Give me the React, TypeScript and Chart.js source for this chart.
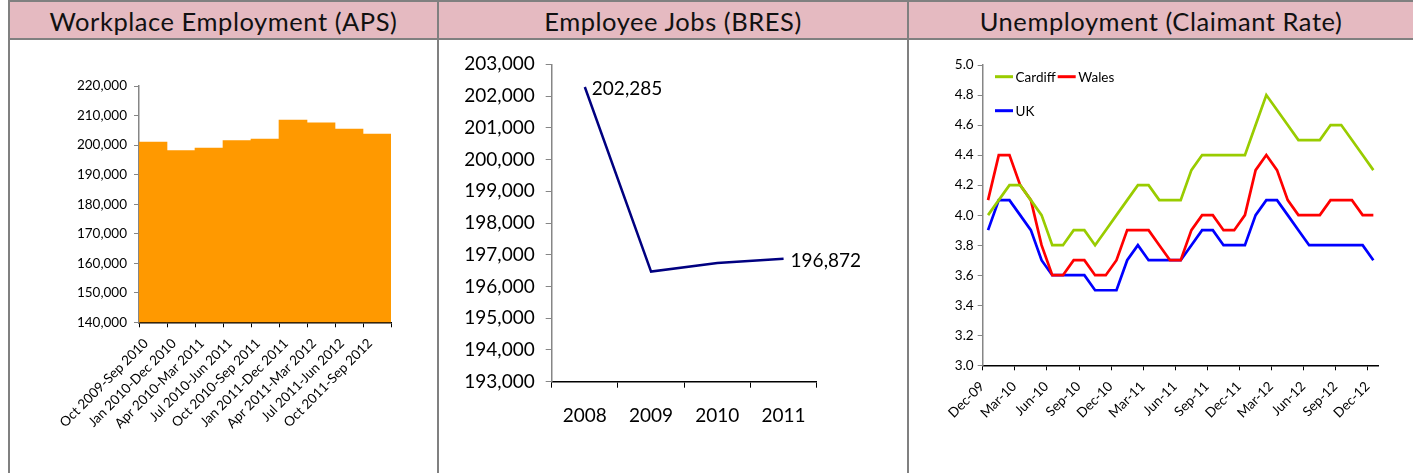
import React, { useEffect, useRef } from 'react';
import { Chart, registerables } from 'chart.js';

Chart.register(...registerables);

// ---------- DATA ----------
const apsLabels = [
  'Oct 2009-Sep 2010',
  'Jan 2010-Dec 2010',
  'Apr 2010-Mar 2011',
  'Jul 2010-Jun 2011',
  'Oct 2010-Sep 2011',
  'Jan 2011-Dec 2011',
  'Apr 2011-Mar 2012',
  'Jul 2011-Jun 2012',
  'Oct 2011-Sep 2012',
];
const apsValues = [201000, 198100, 199000, 201500, 202000, 208500, 207500, 205400, 203700];
const apsTitle = 'Workplace Employment (APS)';

const bresYears = ['2008', '2009', '2010', '2011'];
const bresValues = [202285, 196470, 196740, 196872];
const bresTitle = 'Employee Jobs (BRES)';

const claimantMonths = [
  'Dec-09',
  'Jan-10', 'Feb-10', 'Mar-10', 'Apr-10', 'May-10', 'Jun-10', 'Jul-10', 'Aug-10', 'Sep-10', 'Oct-10', 'Nov-10', 'Dec-10',
  'Jan-11', 'Feb-11', 'Mar-11', 'Apr-11', 'May-11', 'Jun-11', 'Jul-11', 'Aug-11', 'Sep-11', 'Oct-11', 'Nov-11', 'Dec-11',
  'Jan-12', 'Feb-12', 'Mar-12', 'Apr-12', 'May-12', 'Jun-12', 'Jul-12', 'Aug-12', 'Sep-12', 'Oct-12', 'Nov-12', 'Dec-12',
];
const cardiffRate = [4.0, 4.1, 4.2, 4.2, 4.1, 4.0, 3.8, 3.8, 3.9, 3.9, 3.8, 3.9, 4.0, 4.1, 4.2, 4.2, 4.1, 4.1, 4.1, 4.3, 4.4, 4.4, 4.4, 4.4, 4.4, 4.6, 4.8, 4.7, 4.6, 4.5, 4.5, 4.5, 4.6, 4.6, 4.5, 4.4, 4.3];
const walesRate = [4.1, 4.4, 4.4, 4.2, 4.1, 3.8, 3.6, 3.6, 3.7, 3.7, 3.6, 3.6, 3.7, 3.9, 3.9, 3.9, 3.8, 3.7, 3.7, 3.9, 4.0, 4.0, 3.9, 3.9, 4.0, 4.3, 4.4, 4.3, 4.1, 4.0, 4.0, 4.0, 4.1, 4.1, 4.1, 4.0, 4.0];
const ukRate = [3.9, 4.1, 4.1, 4.0, 3.9, 3.7, 3.6, 3.6, 3.6, 3.6, 3.5, 3.5, 3.5, 3.7, 3.8, 3.7, 3.7, 3.7, 3.7, 3.8, 3.9, 3.9, 3.8, 3.8, 3.8, 4.0, 4.1, 4.1, 4.0, 3.9, 3.8, 3.8, 3.8, 3.8, 3.8, 3.8, 3.7];
const claimantSeriesNames = ['Cardiff', 'Wales', 'UK'];
const claimantTitle = 'Unemployment (Claimant Rate)';

// ---------- STYLE ----------
const FONT = 'Lato';
const BORDER = '#808080';
const HEADER_BG = '#e5bac1';
const AXIS_GRAY = '#868686';

const fmt = (v: number) => Number(v).toLocaleString('en-US');

function ChartCanvas({ config, left, top, width, height }: any) {
  const ref = useRef<HTMLCanvasElement | null>(null);
  useEffect(() => {
    if (!ref.current) return;
    const chart = new Chart(ref.current, config);
    return () => chart.destroy();
  }, []);
  return (
    <canvas
      ref={ref}
      width={width}
      height={height}
      style={{ position: 'absolute', left, top, width, height }}
    />
  );
}

// ---------- CHART 1 ----------
const apsConfig: any = {
  type: 'bar',
  data: {
    labels: apsLabels,
    datasets: [
      {
        data: apsValues,
        backgroundColor: '#FF9900',
        borderWidth: 0,
        barPercentage: 1,
        categoryPercentage: 1,
      },
    ],
  },
  options: {
    animation: false,
    responsive: false,
    events: [],
    layout: { padding: { top: 46, right: 46, bottom: 0, left: 0 } },
    plugins: { legend: { display: false }, tooltip: { enabled: false } },
    scales: {
      x: {
        offset: true,
        grid: { offset: true, drawOnChartArea: false, tickLength: 5, color: '#000' },
        border: { color: '#000', width: 1.5 },
        ticks: {
          autoSkip: false,
          minRotation: 45,
          maxRotation: 45,
          font: { family: FONT, size: 13.5 },
          color: '#000',
          padding: 8,
          labelOffset: -7,
        },
        afterFit: (s: any) => {
          s.height = 150.7;
          s.paddingLeft = 0;
          s.paddingRight = 0;
        },
      },
      y: {
        min: 140000,
        max: 220000,
        ticks: {
          stepSize: 10000,
          callback: (v: any) => fmt(v),
          font: { family: FONT, size: 13.5 },
          color: '#000',
          padding: 7,
        },
        grid: { drawOnChartArea: false, tickLength: 5, color: AXIS_GRAY },
        border: { color: AXIS_GRAY, width: 1.5 },
        afterFit: (s: any) => {
          s.width = 129;
          s.paddingTop = 0;
          s.paddingBottom = 0;
        },
      },
    },
  },
};

// ---------- CHART 2 ----------
const endLabelsPlugin = {
  id: 'endLabels',
  afterDatasetsDraw(chart: any) {
    const meta = chart.getDatasetMeta(0);
    const vals = chart.data.datasets[0].data;
    const ctx = chart.ctx;
    ctx.save();
    ctx.font = `19px ${FONT}`;
    ctx.fillStyle = '#000';
    ctx.textAlign = 'left';
    ctx.textBaseline = 'middle';
    [0, vals.length - 1].forEach((i) => {
      const pt = meta.data[i];
      ctx.fillText(fmt(vals[i]), pt.x + 7, pt.y + 2);
    });
    ctx.restore();
  },
};

const bresConfig: any = {
  type: 'line',
  data: {
    labels: bresYears,
    datasets: [
      {
        data: bresValues,
        borderColor: '#000080',
        borderWidth: 2.5,
        pointRadius: 0,
        tension: 0,
        fill: false,
      },
    ],
  },
  options: {
    animation: false,
    responsive: false,
    events: [],
    layout: { padding: { top: 24.3, right: 90.3, bottom: 0, left: 0 } },
    plugins: { legend: { display: false }, tooltip: { enabled: false } },
    scales: {
      x: {
        offset: true,
        grid: { offset: true, drawOnChartArea: false, tickLength: 6, color: '#000' },
        border: { color: '#000', width: 1.5 },
        ticks: {
          font: { family: FONT, size: 19 },
          color: '#000',
          padding: 17,
        },
        afterFit: (s: any) => {
          s.height = 91.3;
          s.paddingLeft = 0;
          s.paddingRight = 0;
        },
      },
      y: {
        min: 193000,
        max: 203000,
        ticks: {
          stepSize: 1000,
          callback: (v: any) => fmt(v),
          font: { family: FONT, size: 19 },
          color: '#000',
          padding: 11,
        },
        grid: { drawOnChartArea: false, tickLength: 6, color: AXIS_GRAY },
        border: { color: AXIS_GRAY, width: 1.5 },
        afterFit: (s: any) => {
          s.width = 112.7;
          s.paddingTop = 0;
          s.paddingBottom = 0;
        },
      },
    },
  },
  plugins: [endLabelsPlugin],
};

// ---------- CHART 3 ----------
const claimantLegendPlugin = {
  id: 'claimantLegend',
  afterDraw(chart: any) {
    const { ctx, chartArea } = chart;
    const spots = [
      [12.3, 11.7],
      [75, 11.7],
      [12.3, 45.7],
    ];
    ctx.save();
    ctx.font = `13.5px ${FONT}`;
    ctx.textBaseline = 'middle';
    ctx.textAlign = 'left';
    chart.data.datasets.forEach((ds: any, i: number) => {
      const [dx, dy] = spots[i];
      const x = chartArea.left + dx;
      const y = chartArea.top + dy;
      ctx.strokeStyle = ds.borderColor;
      ctx.lineWidth = 3;
      ctx.beginPath();
      ctx.moveTo(x, y);
      ctx.lineTo(x + 18, y);
      ctx.stroke();
      ctx.fillStyle = '#000';
      ctx.fillText(ds.label, x + 20.5, y + 0.5);
    });
    ctx.restore();
  },
};

const seriesColors = ['#99CC00', '#FF0000', '#0000FF'];
const claimantConfig: any = {
  type: 'line',
  data: {
    labels: claimantMonths,
    datasets: [cardiffRate, walesRate, ukRate].map((d, i) => ({
      label: claimantSeriesNames[i],
      data: d,
      borderColor: seriesColors[i],
      borderWidth: 2.7,
      pointRadius: 0,
      tension: 0,
      fill: false,
    })),
  },
  options: {
    animation: false,
    responsive: false,
    events: [],
    layout: { padding: { top: 25, right: 34.3, bottom: 0, left: 0 } },
    plugins: { legend: { display: false }, tooltip: { enabled: false } },
    scales: {
      x: {
        offset: true,
        grid: {
          offset: true,
          drawOnChartArea: false,
          tickLength: 5,
          color: (c: any) => (c.index !== undefined && c.index % 3 === 0 ? '#000' : 'rgba(0,0,0,0)'),
        },
        border: { color: '#000', width: 1.5 },
        ticks: {
          autoSkip: false,
          minRotation: 45,
          maxRotation: 45,
          callback: (_v: any, idx: number) => (idx % 3 === 0 ? claimantMonths[idx] : ''),
          font: { family: FONT, size: 13.5 },
          color: '#000',
          padding: 8,
          labelOffset: -6,
        },
        afterFit: (s: any) => {
          s.height = 107.7;
          s.paddingLeft = 0;
          s.paddingRight = 0;
        },
      },
      y: {
        min: 3,
        max: 5,
        ticks: {
          stepSize: 0.2,
          callback: (v: any) => Number(v).toFixed(1),
          font: { family: FONT, size: 13.5 },
          color: '#000',
          padding: 4,
        },
        grid: { drawOnChartArea: false, tickLength: 5, color: AXIS_GRAY },
        border: { color: AXIS_GRAY, width: 1.5 },
        afterFit: (s: any) => {
          s.width = 73.7;
          s.paddingTop = 0;
          s.paddingBottom = 0;
        },
      },
    },
  },
  plugins: [claimantLegendPlugin],
};

// ---------- LAYOUT ----------
const cols = [
  { left: 10, width: 427, title: apsTitle, config: apsConfig },
  { left: 439, width: 468, title: bresTitle, config: bresConfig },
  { left: 909, width: 504, title: claimantTitle, config: claimantConfig },
];

export default function App() {
  return (
    <div
      style={{
        position: 'absolute',
        left: 0,
        top: 0,
        width: 1413,
        height: 473,
        background: '#fff',
        overflow: 'hidden',
      }}
    >
      <div style={{ position: 'absolute', left: 8, top: 0, width: 1405, height: 2, background: BORDER }} />
      <div style={{ position: 'absolute', left: 8, top: 2, width: 1405, height: 36, background: HEADER_BG }} />
      <div style={{ position: 'absolute', left: 8, top: 38, width: 1405, height: 2, background: BORDER }} />
      {[8, 437, 907].map((x) => (
        <div key={x} style={{ position: 'absolute', left: x, top: 0, width: 2, height: 473, background: BORDER }} />
      ))}
      {cols.map((c, i) => (
        <div
          key={'t' + i}
          style={{
            position: 'absolute',
            left: c.left,
            top: 3,
            width: c.width,
            height: 36,
            lineHeight: '36px',
            textAlign: 'center',
            fontFamily: FONT,
            fontSize: 25.5,
            letterSpacing: '0.55px',
            color: '#111',
            whiteSpace: 'nowrap',
          }}
        >
          {c.title}
        </div>
      ))}
      {cols.map((c, i) => (
        <ChartCanvas key={'c' + i} config={c.config} left={c.left} top={40} width={c.width} height={433} />
      ))}
    </div>
  );
}
